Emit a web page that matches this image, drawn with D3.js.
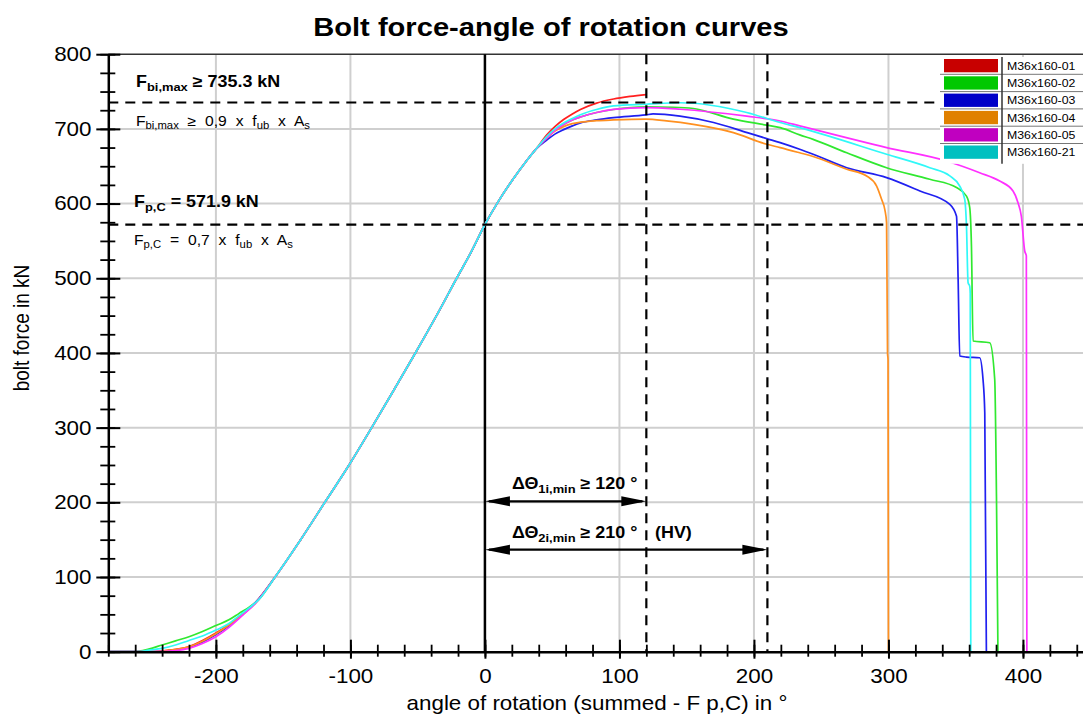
<!DOCTYPE html>
<html>
<head>
<meta charset="utf-8">
<script src="https://d3js.org/d3.v7.min.js"></script>
<style>
  body { margin: 0; background: #fff; }
  text { font-family: "Liberation Sans", Arial, sans-serif; fill: #000; }
</style>
</head>
<body>
<script>
    // --- data (angle of rotation in °, bolt force in kN) ---
    let seriesNames = ["M36x160-01", "M36x160-02", "M36x160-03", "M36x160-04", "M36x160-05", "M36x160-21"]
    let legendColors = ["rgb(200,0,0)", "rgb(0,200,0)", "rgb(0,0,200)", "rgb(224,128,0)", "rgb(192,0,192)", "rgb(0,192,192)"]
    let lineColors = ["#ff2020", "#30e830", "#2020f0", "#ff9020", "#ff30ff", "#30f8f8"]

    // shared rise through F p,C at angle 0
    let rise = [[-156, 100], [-137, 150], [-119, 200], [-101, 250], [-84.2, 300], [-67.8, 350], [-51.7, 400],
                [-36, 450], [-21, 500], [-10, 536], [0, 572], [10, 603], [21, 633], [30, 655], [38, 673]]

    let start01 = [[-280, 0], [-247, 0], [-235, 2], [-220, 7], [-210, 15], [-200, 25], [-190, 37], [-180, 51], [-170, 67]]
    let start02 = [[-280, 0], [-261, 0], [-250, 3.5], [-240, 9], [-230, 14.5], [-220, 20], [-210, 27], [-200, 35],
                   [-190, 43], [-183, 51], [-175, 60], [-168, 70]]
    let start03 = [[-280, 0], [-245, 0], [-232, 2], [-220, 6], [-210, 13], [-200, 23], [-190, 35], [-180, 50], [-170, 67]]
    let start04 = [[-280, 0], [-247, 0], [-235, 2], [-220, 6.5], [-210, 14], [-200, 24], [-190, 36], [-180, 50], [-170, 66]]
    let start05 = [[-280, 0], [-244, 0], [-230, 1.5], [-220, 4.5], [-210, 11], [-200, 20], [-190, 33], [-180, 49], [-170, 66]]
    let start21 = [[-280, 0], [-258, 0], [-250, 2], [-240, 4.5], [-230, 9], [-220, 15], [-210, 21], [-200, 29],
                   [-190, 38], [-183, 48], [-175, 59], [-168, 70]]

    let end01 = [[46, 692], [52, 703], [58.5, 712.5], [65, 720], [71, 726], [83, 734.5], [95.6, 740], [108, 743.5], [120, 746]]
    let end02 = [[46, 688], [52, 698], [58.5, 706], [65, 712], [71, 716], [83, 722], [95.6, 726], [119.7, 729.4],
                 [140, 729], [155, 727.3], [184.7, 713], [209.5, 705], [219.5, 701.6], [234, 692], [244, 686], [269, 668],
                 [298.6, 648], [330.7, 632.5], [350.6, 621.4], [358, 610], [360.4, 595], [361.7, 543], [362.9, 416],
                 [375.3, 413.6], [379, 364.5], [380.3, 208], [381.4, 0]]
    let end03 = [[46, 685], [52, 693], [58.5, 699], [65, 704], [71, 708], [83, 712], [95.6, 715], [119.7, 718.7],
                 [125, 720], [145, 717], [170, 708.5], [195, 695], [209.5, 687], [219.5, 681.6], [234, 672.7], [244, 666],
                 [269, 648], [298.6, 634.7], [323.4, 616.8], [345.6, 599], [350.6, 583], [351.8, 498], [353, 396],
                 [358, 394.5], [367.8, 393.6], [370.3, 364.5], [371.6, 320], [372.8, 0]]
    let end04 = [[46, 688], [52, 697], [58.5, 703], [65, 707], [71, 709], [83, 711], [95.6, 712], [119.7, 713],
                 [135, 710.7], [155, 706], [184.7, 695], [209.5, 679.4], [219.5, 675], [234, 668], [244, 663], [269, 646],
                 [283.8, 637], [291.2, 623.5], [294.9, 605.7], [297.3, 592], [298.6, 574.5], [299.3, 400], [299.7, 391],
                 [300, 0]]
    let end05 = [[46, 688], [52, 698], [58.5, 706], [65, 712], [71, 716], [83, 722], [95.6, 726], [119.7, 728.5],
                 [145, 726.3], [194.6, 717], [219.5, 710.6], [234, 704], [298.6, 675], [343, 657], [367.8, 641.3],
                 [382.7, 630.2], [392.6, 616.8], [396.3, 601.2], [398.8, 583], [401.3, 536.5], [402.5, 530], [402.9, 0]]
    let end21 = [[46, 690], [52, 700], [58.5, 708], [65, 714], [71, 719], [83, 726], [95.6, 730.7], [119.7, 733],
                 [145, 735], [194.6, 722], [219.5, 708.5], [234, 701.6], [298.6, 666], [330.7, 648], [345.6, 637],
                 [353, 623.5], [356.7, 605.7], [358, 570], [359.2, 494], [360.4, 489.5], [360.8, 480], [361.2, 0]]

    let curves = [
        start01.concat(rise, end01),
        start02.concat(rise, end02),
        start03.concat(rise, end03),
        start04.concat(rise, end04),
        start05.concat(rise, end05),
        start21.concat(rise, end21)
    ]

    let xTicksMajor = [-200, -100, 0, 100, 200, 300, 400]
    let yTicksMajor = [0, 100, 200, 300, 400, 500, 600, 700, 800]
    let fbiMax = 735.3, fpC = 571.9
    let angle1 = 120, angle2 = 210

    // --- layout ---
    let W = 1083, H = 715
    let sx = 1.12   // glyphs are drawn a bit wide
    let svg = d3.select("body").append("svg").attr("width", W).attr("height", H)

    let x = d3.scaleLinear().domain([-280, 445]).range([108.3, 1083.5])
    let y = d3.scaleLinear().domain([0, 800]).range([651.7, 54.2])

    let wideText = (px, py, size, anchor) => svg.append("text")
        .attr("x", px / sx).attr("y", py).attr("transform", `scale(${sx},1)`)
        .attr("font-size", size).attr("text-anchor", anchor || "start")

    // grid
    let grid = svg.append("g").attr("stroke", "#cfcfcf").attr("stroke-width", 2)
    xTicksMajor.forEach(v => {
        grid.append("line").attr("x1", x(v)).attr("x2", x(v)).attr("y1", y(800)).attr("y2", y(0))
    })
    yTicksMajor.slice(1, -1).forEach(v => {
        grid.append("line").attr("x1", x(-280)).attr("x2", W).attr("y1", y(v)).attr("y2", y(v))
    })
    svg.append("line").attr("x1", x(-280)).attr("x2", W).attr("y1", y(800)).attr("y2", y(800))
       .attr("stroke", "#333").attr("stroke-width", 1.5)

    // zero line at F p,C
    svg.append("line").attr("x1", x(0)).attr("x2", x(0)).attr("y1", y(800)).attr("y2", y(0))
       .attr("stroke", "#000").attr("stroke-width", 2.5)

    // curves
    let line = d3.line().x(d => x(d[0])).y(d => y(d[1])).curve(d3.curveMonotoneX)
    curves.forEach((c, i) => {
        svg.append("path").attr("d", line(c)).attr("fill", "none")
           .attr("stroke", lineColors[i]).attr("stroke-width", 1.7).attr("stroke-linejoin", "round")
    })

    // dashed limit lines
    let dash = svg.append("g").attr("stroke", "#000").attr("stroke-width", 2.2).attr("stroke-dasharray", "10,7")
    dash.append("line").attr("x1", x(-280)).attr("x2", W).attr("y1", y(fbiMax)).attr("y2", y(fbiMax))
    dash.append("line").attr("x1", x(-280)).attr("x2", W).attr("y1", y(fpC)).attr("y2", y(fpC))
    dash.append("line").attr("x1", x(angle1)).attr("x2", x(angle1)).attr("y1", y(800)).attr("y2", y(0))
    dash.append("line").attr("x1", x(angle2)).attr("x2", x(angle2)).attr("y1", y(800)).attr("y2", y(0))

    // axes: minor ticks cross the axis, major ticks are longer
    let gx = svg.append("g").attr("transform", `translate(0,${y(0)})`)
    gx.call(d3.axisBottom(x).tickValues(d3.range(-280, 445, 20)).tickFormat("").tickSize(5).tickSizeOuter(0))
    gx.selectAll(".tick line").attr("y1", -7).attr("stroke-width", 1.8)
    gx.select(".domain").attr("stroke-width", 2.5)
    let gx2 = svg.append("g").attr("transform", `translate(0,${y(0)})`)
    gx2.call(d3.axisBottom(x).tickValues(xTicksMajor).tickFormat(d => String(d))
        .tickSize(7).tickPadding(10).tickSizeOuter(0))
    gx2.select(".domain").remove()
    gx2.selectAll(".tick line").attr("y1", -12).attr("stroke-width", 2)
    gx2.selectAll(".tick text").attr("transform", `scale(${sx},1)`)

    let gy = svg.append("g").attr("transform", `translate(${x(-280)},0)`)
    gy.call(d3.axisLeft(y).tickValues(d3.range(0, 801, 25)).tickFormat("").tickSize(8).tickSizeOuter(0))
    gy.selectAll(".tick line").attr("x1", 7).attr("stroke-width", 1.8)
    gy.select(".domain").attr("stroke-width", 2.5)
    let gy2 = svg.append("g").attr("transform", `translate(${x(-280)},0)`)
    gy2.call(d3.axisLeft(y).tickValues(yTicksMajor).tickFormat(d => String(d)).tickSize(12).tickSizeOuter(0))
    gy2.select(".domain").remove()
    gy2.selectAll(".tick line").attr("x1", 12).attr("stroke-width", 2)
    gy2.selectAll(".tick text").attr("x", -16.8 / sx).attr("transform", `scale(${sx},1)`)

    svg.selectAll(".tick text").attr("font-size", 20).attr("fill", "#000")
       .attr("font-family", "'Liberation Sans', Arial, sans-serif")

    // titles
    wideText(551, 36, 26, "middle").attr("font-weight", "bold").text("Bolt force-angle of rotation curves")
    wideText(597, 710, 20, "middle").text("angle of rotation (summed - F p,C) in °")
    svg.append("text").attr("transform", `translate(29,328) scale(${sx},1) rotate(-90)`)
       .attr("text-anchor", "middle").attr("font-size", 19).text("bolt force in kN")

    // annotation with subscripts: parts of [text, isSub]
    let rich = (px, py, size, weight, parts, ws) => {
        let t = wideText(px, py, size).attr("font-weight", weight).attr("word-spacing", ws || 0)
        let low = false
        parts.forEach(p => {
            let s = t.append("tspan").text(p[0])
            if (p[1]) s.attr("font-size", size * 0.72)
            if (p[1] && !low) { s.attr("dy", size * 0.22); low = true }
            else if (!p[1] && low) { s.attr("dy", -size * 0.22); low = false }
        })
        return t
    }
    rich(136, 87, 16, "bold", [["F"], ["bi,max", 1], [" ≥ 735.3 kN"]])
    rich(136, 126, 14, "normal", [["F"], ["bi,max", 1], [" ≥ 0,9 x f"], ["ub", 1], [" x A"], ["s", 1]], 4)
    rich(134, 207, 16, "bold", [["F"], ["p,C", 1], [" = 571.9 kN"]])
    rich(134, 245, 14, "normal", [["F"], ["p,C", 1], [" = 0,7 x f"], ["ub", 1], [" x A"], ["s", 1]], 4)
    rich(512, 489, 16, "bold", [["ΔΘ"], ["1i,min", 1], [" ≥ 120 °"]])
    rich(512, 538, 16, "bold", [["ΔΘ"], ["2i,min", 1], [" ≥ 210 °"]])
    wideText(655, 538, 16).attr("font-weight", "bold").text("(HV)")

    // double-headed arrows for the minimum angles
    let arrow = (a, v) => {
        let x0 = x(0), x1 = x(a), yy = y(v), L = 25, hw = 5
        svg.append("line").attr("x1", x0 + 4).attr("x2", x1 - 4).attr("y1", yy).attr("y2", yy)
           .attr("stroke", "#000").attr("stroke-width", 2.2)
        svg.append("path").attr("d", `M${x0},${yy}L${x0 + L},${yy - hw}L${x0 + L},${yy + hw}Z`).attr("fill", "#000")
        svg.append("path").attr("d", `M${x1},${yy}L${x1 - L},${yy - hw}L${x1 - L},${yy + hw}Z`).attr("fill", "#000")
    }
    arrow(angle1, 201.3)
    arrow(angle2, 136.6)

    // legend
    let lx = 940, ly = 57, rh = 17.3
    svg.append("rect").attr("x", lx).attr("y", ly).attr("width", W - lx).attr("height", rh * 6 + 3).attr("fill", "#fff")
    seriesNames.forEach((n, i) => {
        let ry = ly + i * rh
        svg.append("rect").attr("x", 944).attr("y", ry + 2).attr("width", 54).attr("height", rh - 4)
           .attr("fill", legendColors[i])
        wideText(1007, ry + rh / 2 + 4.2, 11).text(n)
        if (i > 0) svg.append("line").attr("x1", lx).attr("x2", W).attr("y1", ry).attr("y2", ry)
                      .attr("stroke", "#777").attr("stroke-width", 1)
    })
    svg.append("line").attr("x1", 1002).attr("x2", 1002).attr("y1", ly).attr("y2", ly + rh * 6 + 3)
       .attr("stroke", "#333").attr("stroke-width", 1.5)
</script>
</body>
</html>
